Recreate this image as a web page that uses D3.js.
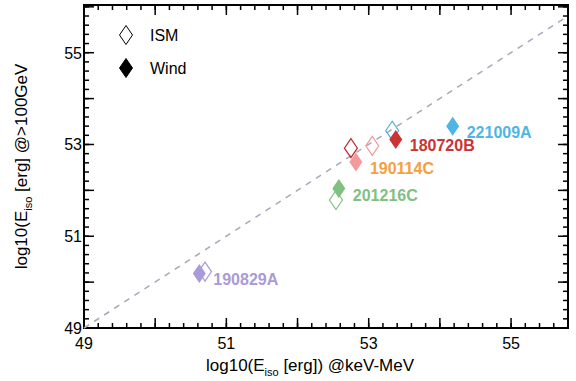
<!DOCTYPE html>
<html>
<head>
<meta charset="utf-8">
<script src="https://cdn.jsdelivr.net/npm/d3@7"></script>
<style>
  body { margin: 0; background: #fff; }
  svg { font-family: "Liberation Sans", Arial, sans-serif; }
</style>
</head>
<body>
<svg id="chart" width="576" height="381"></svg>
<script>
// GRB names and colours
const grbs = ['221009A', '180720B', '190114C', '201216C', '190829A'];
const markColors = ['#4fb4e6', '#cc3333', '#f29b9b', '#80c080', '#a99ad9'];
const labelColors = ['#4fb4e6', '#cc3333', '#f5a040', '#80c080', '#a99ad9'];
const ismStroke = ['#4fb4e6', '#c0282d', '#f29b9b', '#80c080', '#a99ad9'];

// log10 Eiso (keV-MeV) vs log10 Eiso (>100 GeV)
const ismX = [53.33, 52.75, 53.05, 52.54, 50.70];
const ismY = [53.30, 52.92, 52.97, 51.79, 50.23];
const windX = [54.18, 53.38, 52.82, 52.58, 50.62];
const windY = [53.40, 53.11, 52.62, 52.04, 50.19];

const tickLabels = [49, 51, 53, 55];
const legendItems = ['ISM', 'Wind'];

const margin = { left: 84, right: 8, top: 5, bottom: 53 };
const W = 576, H = 381;

const svg = d3.select('#chart');

const x = d3.scaleLinear().domain([49, 55.8]).range([margin.left, W - margin.right]);
const y = d3.scaleLinear().domain([49, 56.04]).range([H - margin.bottom, margin.top]);

const majorX = d3.range(49, 56, 1), minorX = d3.range(49, 55.81, 0.2);
const majorY = d3.range(49, 57, 1), minorY = d3.range(49, 56.01, 0.2);

// ticks pointing inward on all four sides
function ticks(g, vals, len, side) {
  g.selectAll(null).data(vals).enter().append('line')
    .attr('stroke', '#000').attr('stroke-width', 1.5)
    .each(function (v) {
      const s = d3.select(this);
      if (side === 'bottom') s.attr('x1', x(v)).attr('x2', x(v)).attr('y1', y(49)).attr('y2', y(49) - len);
      if (side === 'top') s.attr('x1', x(v)).attr('x2', x(v)).attr('y1', y(56.04)).attr('y2', y(56.04) + len);
      if (side === 'left') s.attr('y1', y(v)).attr('y2', y(v)).attr('x1', x(49)).attr('x2', x(49) + len);
      if (side === 'right') s.attr('y1', y(v)).attr('y2', y(v)).attr('x1', x(55.8)).attr('x2', x(55.8) - len);
    });
}

const axes = svg.append('g');
['bottom', 'top'].forEach(side => {
  ticks(axes, minorX, 5, side);
  ticks(axes, majorX, 10, side);
});
['left', 'right'].forEach(side => {
  ticks(axes, minorY, 5, side);
  ticks(axes, majorY, 10, side);
});

axes.append('rect')
  .attr('x', x(49)).attr('y', y(56.04))
  .attr('width', x(55.8) - x(49)).attr('height', y(49) - y(56.04))
  .attr('fill', 'none').attr('stroke', '#000').attr('stroke-width', 2);

// 1:1 line
svg.append('line')
  .attr('x1', x(49)).attr('y1', y(49))
  .attr('x2', x(55.8)).attr('y2', y(55.8))
  .attr('stroke', '#a8a8b8').attr('stroke-width', 1.5)
  .attr('stroke-dasharray', '6,6');

// tick labels
svg.append('g').selectAll('text').data(tickLabels).enter().append('text')
  .attr('x', d => x(d)).attr('y', y(49) + 21)
  .attr('text-anchor', 'middle').attr('font-size', 16)
  .text(d => d);
svg.append('g').selectAll('text').data(tickLabels).enter().append('text')
  .attr('x', x(49) - 2).attr('y', d => y(d) + 6)
  .attr('text-anchor', 'end').attr('font-size', 16)
  .text(d => d);

// axis titles
const xt = svg.append('text')
  .attr('x', (x(49) + x(55.8)) / 2 - 16).attr('y', 371)
  .attr('text-anchor', 'middle').attr('font-size', 17);
xt.append('tspan').text('log10(E');
xt.append('tspan').attr('font-size', 11).attr('dy', 5).text('iso');
xt.append('tspan').attr('dy', -5).text(' [erg]) @keV-MeV');

const yt = svg.append('text')
  .attr('transform', `translate(27,${(y(49) + y(56.04)) / 2}) rotate(-90)`)
  .attr('text-anchor', 'middle').attr('font-size', 17);
yt.append('tspan').text('log10(E');
yt.append('tspan').attr('font-size', 11).attr('dy', 5).text('iso');
yt.append('tspan').attr('dy', -5).text(' [erg] @>100GeV');

const diamond = (hw, hh) => `M0,${-hh}L${hw},0L0,${hh}L${-hw},0Z`;
const dPath = diamond(6.5, 9.5);

// ISM (open) and wind (filled) markers
const pts = svg.append('g');
pts.selectAll('.ism').data(grbs).enter().append('path')
  .attr('class', 'ism')
  .attr('d', dPath)
  .attr('transform', (d, i) => `translate(${x(ismX[i])},${y(ismY[i])})`)
  .attr('fill', 'none')
  .attr('stroke', (d, i) => ismStroke[i]).attr('stroke-width', 1.2);
pts.selectAll('.wind').data(grbs).enter().append('path')
  .attr('class', 'wind')
  .attr('d', dPath)
  .attr('transform', (d, i) => `translate(${x(windX[i])},${y(windY[i])})`)
  .attr('fill', (d, i) => markColors[i]);

// labels next to the wind markers
svg.append('g').selectAll('text').data(grbs).enter().append('text')
  .attr('x', (d, i) => x(windX[i]) + 14)
  .attr('y', (d, i) => y(windY[i]) + 12)
  .attr('font-size', 16).attr('font-weight', 'bold')
  .attr('fill', (d, i) => labelColors[i])
  .text(d => d);

// legend
const leg = svg.append('g');
leg.selectAll('path').data(legendItems).enter().append('path')
  .attr('d', dPath)
  .attr('transform', (d, i) => `translate(126,${35 + i * 33})`)
  .attr('fill', (d, i) => i ? '#000' : 'none')
  .attr('stroke', '#000').attr('stroke-width', i => 1);
leg.selectAll('text').data(legendItems).enter().append('text')
  .attr('x', 150).attr('y', (d, i) => 41 + i * 33)
  .attr('font-size', 16)
  .text(d => d);
</script>
</body>
</html>
